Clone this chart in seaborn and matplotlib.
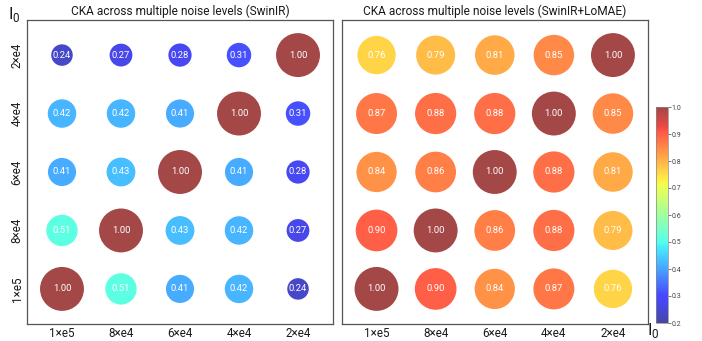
import numpy as np
import pandas as pd
import matplotlib
matplotlib.use("Agg")
import matplotlib.pyplot as plt
import seaborn as sns

# Noise levels (photon counts) along each axis
x_levels = ["1×e5", "8×e4", "6×e4", "4×e4", "2×e4"]
y_levels = ["1×e5", "8×e4", "6×e4", "4×e4", "2×e4"]  # bottom to top

# CKA similarity, rows listed from top (2×e4) to bottom (1×e5)
cka_swinir = [
    [0.24, 0.27, 0.28, 0.31, 1.00],
    [0.42, 0.42, 0.41, 1.00, 0.31],
    [0.41, 0.43, 1.00, 0.41, 0.28],
    [0.51, 1.00, 0.43, 0.42, 0.27],
    [1.00, 0.51, 0.41, 0.42, 0.24],
]
cka_lomae = [
    [0.76, 0.79, 0.81, 0.85, 1.00],
    [0.87, 0.88, 0.88, 1.00, 0.85],
    [0.84, 0.86, 1.00, 0.88, 0.81],
    [0.90, 1.00, 0.86, 0.88, 0.79],
    [1.00, 0.90, 0.84, 0.87, 0.76],
]

titles = ["CKA across multiple noise levels (SwinIR)",
          "CKA across multiple noise levels (SwinIR+LoMAE)"]


def to_frame(mat):
    rows = []
    n = len(mat)
    for r, row in enumerate(mat):
        for c, v in enumerate(row):
            rows.append({"x": c, "y": n - 1 - r, "cka": v})
    return pd.DataFrame(rows)


sns.set_theme(style="white")
plt.rcParams["font.family"] = ["Roboto", "DejaVu Sans"]
plt.rcParams["mathtext.fontset"] = "custom"
plt.rcParams["mathtext.rm"] = "Roboto"
plt.rcParams["text.color"] = "#1a1a1a"
plt.rcParams["xtick.color"] = "#1a1a1a"
plt.rcParams["ytick.color"] = "#1a1a1a"

jet = matplotlib.colormaps["jet"]

fig = plt.figure(figsize=(7.02, 3.41), dpi=100)
W, H = 702, 341
ax_l = fig.add_axes([27 / W, 17 / H, 306 / W, 304 / H])
ax_r = fig.add_axes([341.5 / W, 17 / H, 306.5 / W, 304 / H])
cax = fig.add_axes([655.5 / W, 18 / H, 12 / W, 216 / H])

vmin, vmax = 0.2, 1.0
alpha = 0.72

for ax, mat, title in zip([ax_l, ax_r], [cka_swinir, cka_lomae], titles):
    df = to_frame(mat)
    sns.scatterplot(data=df, x="x", y="y", hue="cka", palette=jet,
                    hue_norm=(vmin, vmax), size="cka", size_norm=(0, 1),
                    sizes=(0, 1000), alpha=alpha, linewidth=0,
                    legend=False, ax=ax)
    for _, rec in df.iterrows():
        ax.text(rec["x"], rec["y"], f"{rec['cka']:.2f}", ha="center",
                va="center", color="white", fontsize=6.8)
    ax.set_xlim(-0.593, 4.593)
    ax.set_ylim(-0.6, 4.6)
    ax.set_xticks(range(5))
    ax.set_xticklabels(x_levels, fontsize=8.4)
    ax.set_xlabel("")
    ax.set_ylabel("")
    ax.set_title(title, fontsize=8.6, pad=3.5)
    for sp in ax.spines.values():
        sp.set_color("#555555")
        sp.set_linewidth(0.9)
    ax.tick_params(length=0, pad=2.5)

ax_l.set_yticks(range(5))
ax_l.set_yticklabels(y_levels, fontsize=8.4, rotation=90, va="center")
ax_r.set_yticks([])

fig.text(14 / W, 1 - 14 / H, "I$_0$", fontsize=12, ha="center", va="center")
fig.text(653 / W, 1 - 331 / H, "I$_0$", fontsize=12, ha="center", va="center")

sm = plt.cm.ScalarMappable(cmap=jet, norm=plt.Normalize(vmin, vmax))
cb = fig.colorbar(sm, cax=cax, alpha=alpha)
cb.set_ticks(np.arange(0.2, 1.01, 0.1))
cb.ax.tick_params(labelsize=5, length=2, width=0.5, pad=1, colors="#444444")
cb.outline.set_edgecolor("#888888")
cb.outline.set_linewidth(0.5)

fig.savefig("out.png", dpi=100)
